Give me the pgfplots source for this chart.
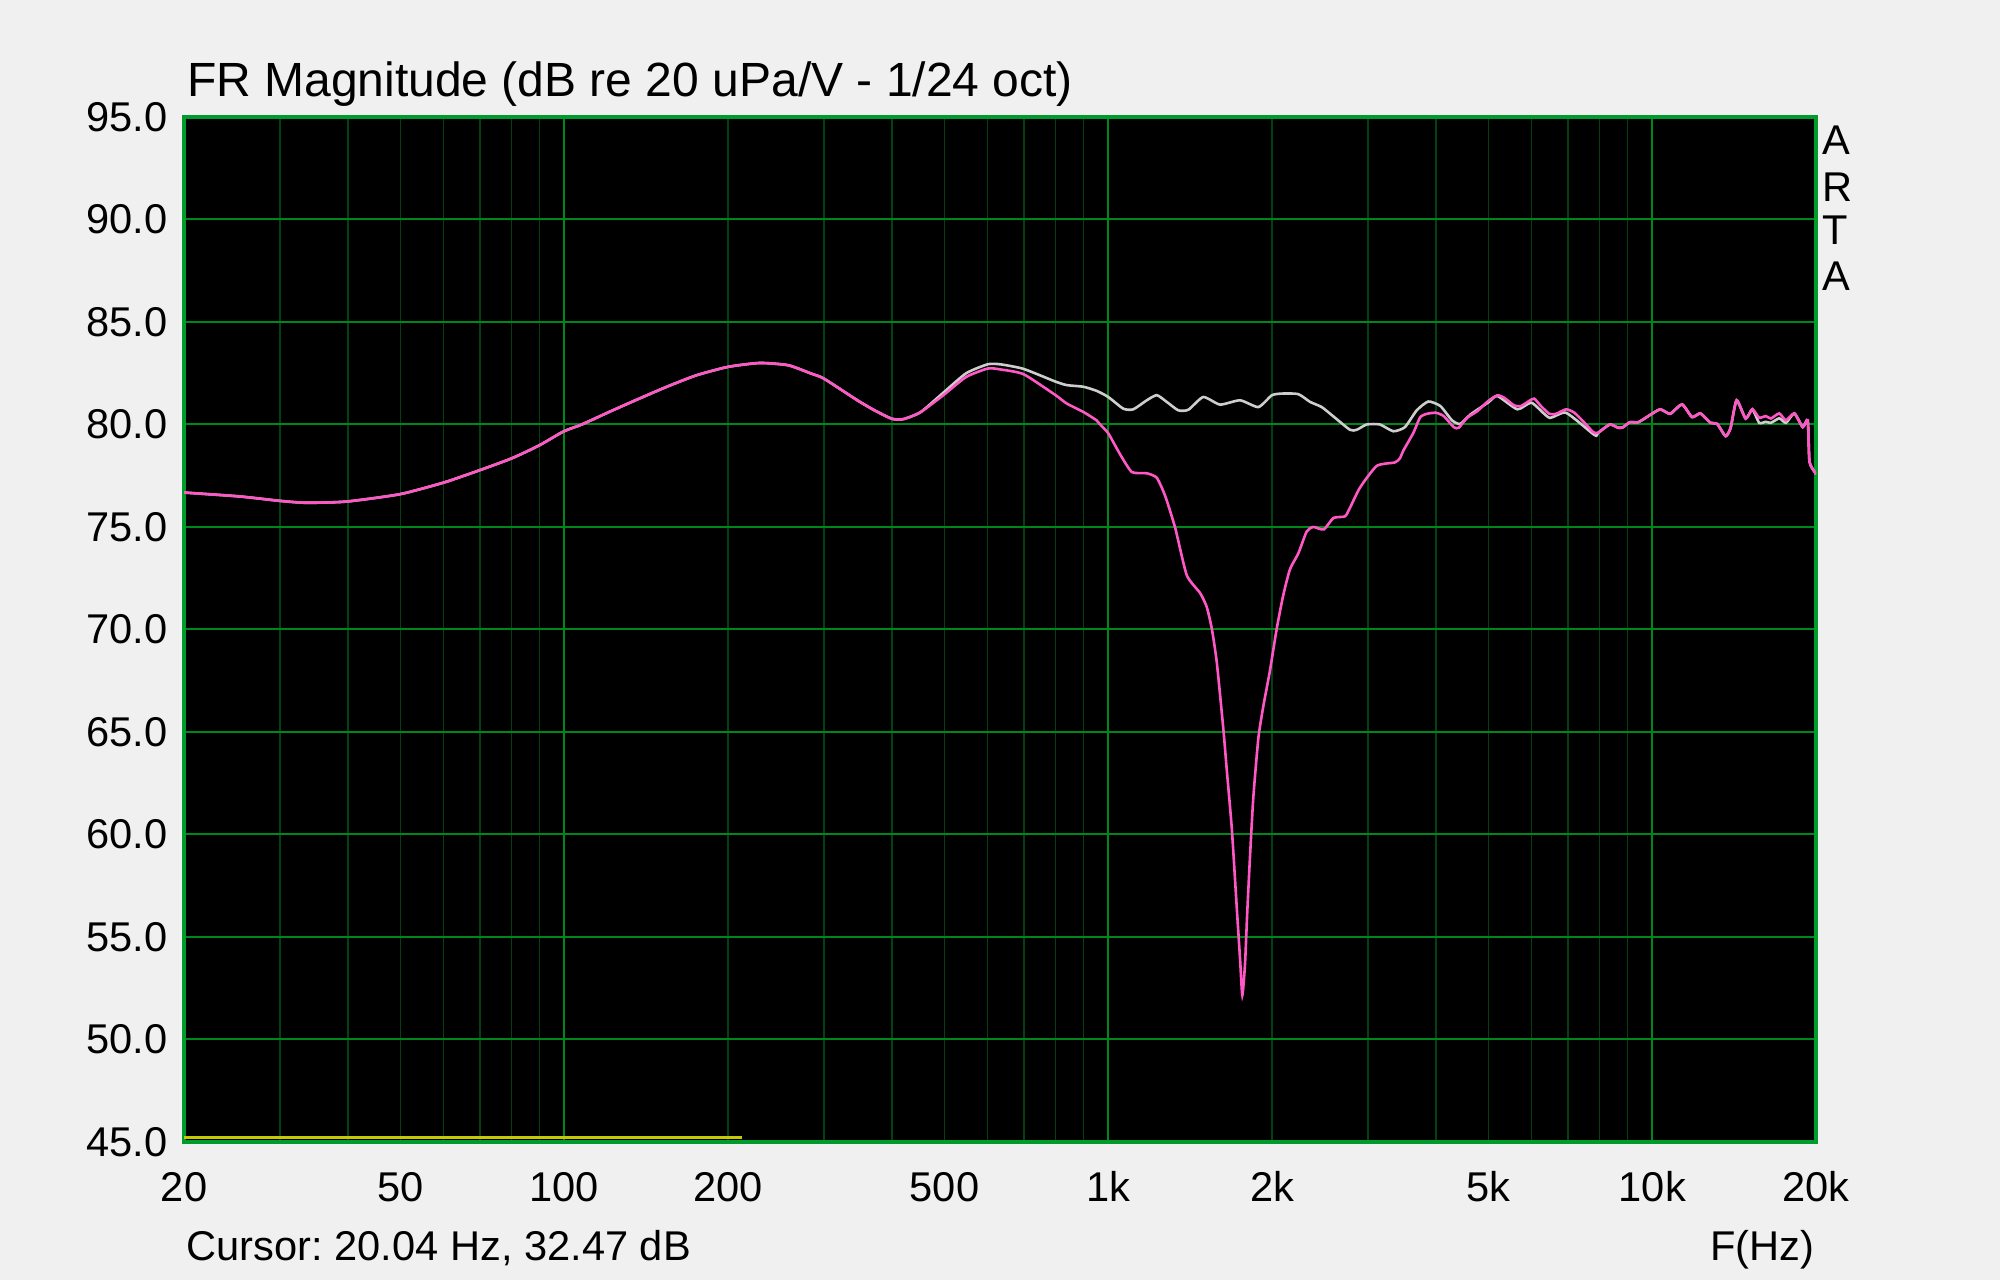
\documentclass[border=0pt]{standalone}
\usepackage{fontspec}
\setmainfont{Liberation Sans}
\usepackage{pgfplots}
\pgfplotsset{compat=1.18}
\frenchspacing
\definecolor{pagebg}{RGB}{240,240,240}
\definecolor{gridmaj}{RGB}{0,135,26}
\definecolor{gridmin}{RGB}{0,66,16}
\definecolor{framec}{RGB}{0,155,45}
\definecolor{pinkc}{RGB}{255,88,198}
\definecolor{grayc}{RGB}{205,205,205}
\definecolor{yel}{RGB}{200,200,0}
\begin{document}
\begin{tikzpicture}[x=1pt,y=1pt]
\fill[pagebg] (0,0) rectangle (500,320);
\useasboundingbox (0,0) rectangle (500,320);
\begin{axis}[
  at={(46pt,34.5pt)}, anchor=south west,
  width=408pt, height=256.25pt, scale only axis,
  xmode=log, xmin=20, xmax=20000, ymin=45, ymax=95,
  axis background/.style={fill=black},
  axis line style={draw=framec, line width=0.8pt},
  xtick={100,1000,10000}, xticklabels={100,1k,10k},
  minor xtick={30,40,50,60,70,80,90,200,300,400,500,600,700,800,900,2000,3000,4000,5000,6000,7000,8000,9000},
  extra x ticks={20,50,200,500,2000,5000,20000},
  extra x tick labels={20,50,200,500,2k,5k,20k},
  extra x tick style={grid=none, major tick length=0pt},
  ytick={45,50,55,60,65,70,75,80,85,90,95},
  yticklabels={45.0,50.0,55.0,60.0,65.0,70.0,75.0,80.0,85.0,90.0,95.0},
  xmajorgrids, xminorgrids, ymajorgrids,
  major grid style={draw=gridmaj, line width=0.5pt},
  minor grid style={draw=gridmin, line width=0.4pt},
  major tick length=0pt, minor tick length=0pt,
  tick style={draw=none},
  ticklabel style={font=\fontsize{10.4}{12}\selectfont, inner sep=0pt},
  xticklabel style={anchor=base, yshift=-14.9pt},
  yticklabel style={anchor=east, xshift=-4pt},
]
\addplot[grayc, line width=0.65pt, smooth, tension=0.35] coordinates {
(20,76.68) (25.3,76.49) (30.1,76.27) (33.6,76.18) (39.8,76.24) (49.9,76.6) (60.1,77.17) (70.1,77.78) (80.1,78.35) (89.8,78.97) (99.7,79.66) (107.7,80.0) (121.6,80.64) (137.3,81.26) (155,81.86) (175,82.4) (200,82.81) (228.7,83.0) (258,82.89) (284.6,82.48) (300,82.24) (345.8,81.18) (371.8,80.69) (400,80.28) (420,80.26) (451.8,80.6)
(497,81.54) (548,82.5) (601,82.94) (635,82.93) (699,82.71) (800,82.09) (839,81.92) (900,81.84) (952,81.64) (1000,81.34) (1066,80.77) (1112,80.74) (1177,81.18) (1228,81.43) (1281,81.1) (1345,80.69) (1404,80.72) (1495,81.34) (1605,80.97) (1747,81.18) (1888,80.85) (2000,81.43) (2098,81.51) (2236,81.48) (2350,81.1) (2468,80.85) (2594,80.39) (2782,79.74) (2862,79.74) (2986,80.0) (3158,80.0) (3342,79.67) (3510,79.87) (3690,80.69) (3876,81.12) (4078,80.9) (4285,80.2) (4436,80.03) (4634,80.49) (4996,81.08) (5190,81.39) (5650,80.74) (6000,81.06) (6468,80.33) (6944,80.57) (7836,79.48)
(7948,79.59) (8352,80.0) (8654,79.84) (8842,79.87) (9096,80.11) (9426,80.11) (9834,80.41) (10338,80.74) (10786,80.52) (11340,80.98) (11832,80.36) (12258,80.54) (12794,80.08) (13162,80.03) (13638,79.43) (13932,79.84) (14290,81.18) (14846,80.29) (15274,80.74) (15722,80.08) (16172,80.13) (16520,80.08) (17118,80.3) (17610,80.08) (18246,80.54) (18908,79.87) (19312,80.2) (19450,78.2) (19866,77.7) (20000,77.58)
};
\addplot[pinkc, line width=0.65pt, smooth, tension=0.35] coordinates {
(20,76.68) (25.3,76.49) (30.1,76.27) (33.6,76.18) (39.8,76.24) (49.9,76.6) (60.1,77.17) (70.1,77.78) (80.1,78.35) (89.8,78.97) (99.7,79.66) (107.7,80.0) (121.6,80.64) (137.3,81.26) (155,81.86) (175,82.4) (200,82.81) (228.7,83.0) (258,82.89) (284.6,82.48) (300,82.24) (345.8,81.18) (371.8,80.69) (400,80.28) (420,80.26) (451.8,80.6)
(497,81.42) (548,82.32) (601,82.73) (635,82.68) (699,82.45) (800,81.43) (839,81.02) (900,80.61) (952,80.2) (966,80.0) (1000,79.57) (1051,78.55) (1105,77.68) (1177,77.62) (1228,77.4) (1272,76.52) (1327,74.97) (1394,72.65) (1475,71.78) (1517,71.1) (1550,70.04) (1583,68.4) (1628,65.11) (1651,63.18) (1687,60.28) (1723,56.41) (1747,53.9) (1764,52.16) (1784,53.7) (1801,56.22) (1822,58.92) (1848,61.82) (1888,64.72) (1928,66.27) (1983,68.01) (2040,70.04) (2098,71.69) (2158,72.94) (2236,73.72) (2316,74.78) (2382,75.0) (2490,74.88) (2594,75.44) (2724,75.52) (2782,75.94) (2902,76.92) (3116,77.98) (3366,78.15) (3438,78.36) (3486,78.72) (3638,79.59) (3744,80.35) (3852,80.52) (4002,80.57) (4136,80.41) (4316,79.87) (4408,79.84) (4568,80.33) (4768,80.65) (4996,81.15) (5190,81.42) (5340,81.31) (5572,80.93) (5734,80.9) (5940,81.15) (6068,81.26) (6242,80.9) (6468,80.52) (6654,80.52) (6944,80.74) (7194,80.57) (7508,80.08) (7780,79.64)
(7948,79.59) (8352,80.0) (8654,79.84) (8842,79.87) (9096,80.11) (9426,80.11) (9834,80.41) (10338,80.74) (10786,80.52) (11340,80.98) (11832,80.36) (12258,80.54) (12794,80.08) (13162,80.03) (13638,79.43) (13932,79.84) (14290,81.18) (14846,80.29) (15274,80.74) (15722,80.33) (16172,80.41) (16520,80.29) (17118,80.54) (17610,80.2) (18246,80.54) (18908,79.87) (19312,80.2) (19450,78.2) (19866,77.7) (20000,77.58)
};
\addplot[yel, line width=0.75pt] coordinates {(20,45.22) (212,45.22)};
\end{axis}
\node[anchor=base west, inner sep=0pt, font=\fontsize{12}{14}\selectfont] at (46.6,295.8) {FR Magnitude (dB re 20 uPa/V - 1/24 oct)};
\node[anchor=base west, inner sep=0pt, font=\fontsize{10.4}{12}\selectfont] at (46.5,4.9) {Cursor: 20.04 Hz, 32.47 dB};
\node[anchor=base east, inner sep=0pt, font=\fontsize{10.4}{12}\selectfont] at (453.8,4.9) {F(Hz)};
\node[anchor=base west, inner sep=0pt, font=\fontsize{10.4}{12}\selectfont] at (455.4,281.25) {A};
\node[anchor=base west, inner sep=0pt, font=\fontsize{10.4}{12}\selectfont] at (455.4,269.6) {R};
\node[anchor=base west, inner sep=0pt, font=\fontsize{10.4}{12}\selectfont] at (455.4,258.75) {T};
\node[anchor=base west, inner sep=0pt, font=\fontsize{10.4}{12}\selectfont] at (455.4,247.3) {A};
\end{tikzpicture}
\end{document}
